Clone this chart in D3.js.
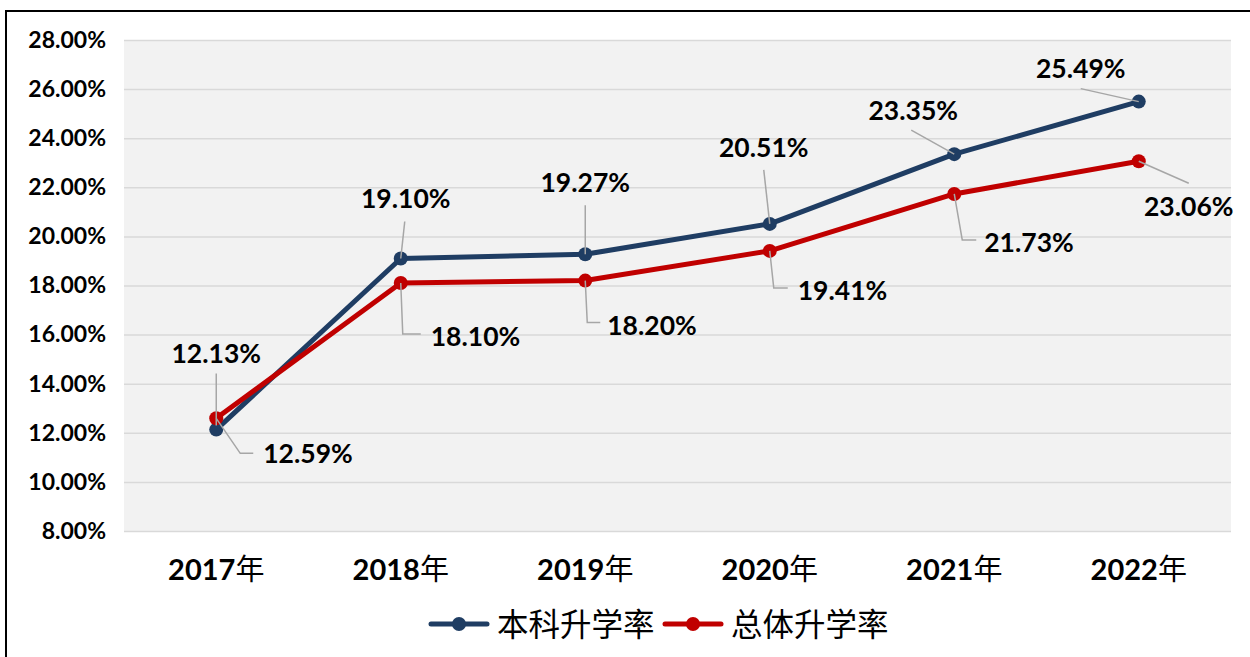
<!DOCTYPE html>
<html>
<head>
<meta charset="utf-8">
<script src="https://cdn.jsdelivr.net/npm/d3@7"></script>
<style>
  body { margin: 0; background: #fff; }
  svg { display: block; }
  .num { font-family: Lato, "Open Sans", sans-serif; font-weight: 700; fill: #000; }
  .cjk { font-family: "Noto Sans CJK SC", sans-serif; font-weight: 400; }
</style>
</head>
<body>
<svg id="chart"></svg>
<script>
'use strict';

const years = ['2017年', '2018年', '2019年', '2020年', '2021年', '2022年'];
const undergrad = [12.13, 19.10, 19.27, 20.51, 23.35, 25.49];
const overall = [12.59, 18.10, 18.20, 19.41, 21.73, 23.06];
const yTicks = [8, 10, 12, 14, 16, 18, 20, 22, 24, 26, 28];
const seriesNames = ['本科升学率', '总体升学率'];

// label placement relative to the point: [dx, dy, anchor, leader points]
const blueLabels = [
    [0, -77, 'middle', [[0, -56], [0, -4]]],
    [5, -60, 'middle', [[4, -37], [0, 0]]],
    [0, -72, 'middle', [[0, -49], [0, 0]]],
    [-6, -77, 'middle', [[-6, -54], [0, 0]]],
    [-41, -44, 'middle', [[-43, -24], [0, 0]]],
    [-58, -34, 'middle', [[-58, -13], [0, 0]]]
];
const redLabels = [
    [47, 35, 'start', [[0, 0], [24, 35], [37, 35]]],
    [30, 53, 'start', [[0, 0], [2, 51], [20, 51]]],
    [22, 44, 'start', [[0, 0], [2, 42], [15, 42]]],
    [28, 39, 'start', [[0, 0], [4, 37], [18, 37]]],
    [30, 48, 'start', [[0, 0], [8, 46], [22, 46]]],
    [50, 45, 'middle', [[0, 0], [50, 22]]]
];

(function () {
    const width = 1250;
    const height = 657;
    const margin = {top: 40, right: 19, bottom: 126, left: 124};
    const innerW = width - margin.left - margin.right;
    const innerH = height - margin.top - margin.bottom;

    const svg = d3.select('#chart')
        .attr('width', width)
        .attr('height', height);

    svg.append('rect')
        .attr('x', 6)
        .attr('y', 11)
        .attr('width', width + 10)
        .attr('height', height + 10)
        .attr('fill', '#fff')
        .attr('stroke', '#000')
        .attr('stroke-width', 2);

    const g = svg.append('g')
        .attr('transform', `translate(${margin.left},${margin.top})`);

    const x = d3.scaleBand()
        .domain(years)
        .range([0, innerW]);

    const y = d3.scaleLinear()
        .domain([8, 28])
        .range([innerH, 0]);

    g.append('rect')
        .attr('width', innerW)
        .attr('height', innerH)
        .attr('fill', '#f2f2f2');

    const grid = g.append('g')
        .call(d3.axisLeft(y)
            .tickValues(yTicks)
            .tickSize(-innerW)
            .tickFormat(''));
    grid.select('.domain').remove();
    grid.selectAll('line')
        .attr('stroke', '#d9d9d9')
        .attr('stroke-width', 1.5);

    const yAxis = g.append('g')
        .call(d3.axisLeft(y)
            .tickValues(yTicks)
            .tickSize(0)
            .tickPadding(18)
            .tickFormat(d => d.toFixed(2) + '%'));
    yAxis.select('.domain').remove();
    yAxis.selectAll('text')
        .attr('class', 'num')
        .style('font-size', '23px');

    const xAxis = g.append('g')
        .attr('transform', `translate(0,${innerH})`)
        .call(d3.axisBottom(x).tickSize(0).tickPadding(28));
    xAxis.select('.domain').remove();
    xAxis.selectAll('text').each(function (d) {
        const t = d3.select(this).text('');
        t.attr('font-size', '29px').attr('fill', '#000');
        t.append('tspan').attr('class', 'num').text(d.replace('年', ''));
        t.append('tspan').attr('class', 'cjk').text('年');
    });

    const cx = d => x(d) + x.bandwidth() / 2;

    const series = [
        {values: undergrad, color: '#1f3d63', labels: blueLabels},
        {values: overall, color: '#c00000', labels: redLabels}
    ];

    const line = d3.line()
        .x((d, i) => cx(years[i]))
        .y(d => y(d));

    series.forEach(s => {
        g.append('path')
            .datum(s.values)
            .attr('fill', 'none')
            .attr('stroke', s.color)
            .attr('stroke-width', 5)
            .attr('stroke-linejoin', 'round')
            .attr('d', line);
    });

    series.forEach(s => {
        g.append('g')
            .selectAll('circle')
            .data(s.values)
            .join('circle')
            .attr('cx', (d, i) => cx(years[i]))
            .attr('cy', d => y(d))
            .attr('r', 7)
            .attr('fill', s.color);
    });

    const leader = d3.line();
    series.forEach(s => {
        s.values.forEach((v, i) => {
            const px = cx(years[i]);
            const py = y(v);
            const [dx, dy, anchor, pts] = s.labels[i];
            g.append('path')
                .attr('d', leader(pts.map(p => [px + p[0], py + p[1]])))
                .attr('fill', 'none')
                .attr('stroke', '#a6a6a6')
                .attr('stroke-width', 1.5);
            g.append('text')
                .attr('class', 'num')
                .attr('x', px + dx)
                .attr('y', py + dy)
                .attr('text-anchor', anchor)
                .attr('dominant-baseline', 'central')
                .style('font-size', '26.5px')
                .text(v.toFixed(2) + '%');
        });
    });

    // legend
    const legend = svg.append('g')
        .attr('transform', 'translate(431,624)');
    const legendX = [0, 234];
    series.forEach((s, i) => {
        const lg = legend.append('g')
            .attr('transform', `translate(${legendX[i]},0)`);
        lg.append('line')
            .attr('x1', 0)
            .attr('x2', 56)
            .attr('stroke', s.color)
            .attr('stroke-width', 5)
            .attr('stroke-linecap', 'round');
        lg.append('circle')
            .attr('cx', 28)
            .attr('r', 7)
            .attr('fill', s.color);
        lg.append('text')
            .attr('class', 'cjk')
            .attr('x', 66)
            .attr('y', -2)
            .attr('dominant-baseline', 'central')
            .attr('font-size', '31.5px')
            .attr('fill', '#000')
            .text(seriesNames[i]);
    });
})();
</script>
</body>
</html>
